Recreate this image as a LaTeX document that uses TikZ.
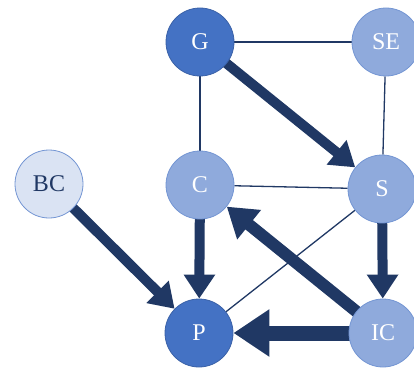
\documentclass[tikz,border=0pt]{standalone}
\usepackage{fontspec}
\setmainfont{Liberation Serif}
\usetikzlibrary{arrows.meta,backgrounds}
\definecolor{darkblue}{HTML}{4472C4}
\definecolor{midblue}{HTML}{8FAADC}
\definecolor{paleblue}{HTML}{DAE3F3}
\definecolor{navy}{HTML}{203864}
\tikzset{
  base/.style={circle,minimum size=68pt,inner sep=0pt,line width=0.8pt,
    font=\fontsize{24}{28}\selectfont},
  dark/.style={base,fill=darkblue,draw=darkblue!85!black,text=white},
  mid/.style={base,fill=midblue,draw=darkblue!75,text=white},
  pale/.style={base,fill=paleblue,draw=darkblue!75,text=navy},
  link/.style={draw=navy,line width=1.3pt},
  flow/.style={draw=navy,line width=#1,shorten <=-8pt,
    -{Triangle[width=3*#1,length=2.4*#1]}},
}
\begin{document}
\begin{tikzpicture}[x=1pt,y=-1pt]
  \useasboundingbox (0,0) rectangle (414,369);
  % vertices
  \node[dark] (G) at (200,42) {G};
  \node[mid] (SE) at (386,42) {SE};
  \node[pale] (BC) at (49,184) {BC};
  \node[mid] (C) at (200,185) {C};
  \node[mid] (S) at (382,189) {S};
  \node[dark] (P) at (199,333) {P};
  \node[mid] (IC) at (383,333) {IC};
  \begin{scope}[on background layer]
    % plain links
    \draw[link] (G) -- (SE);
    \draw[link] (G) -- (C);
    \draw[link] (SE) -- (S);
    \draw[link] (C) -- (S);
    \draw[link] (S) -- (P);
    % flows
    \draw[flow=10pt] (G) -- (S);
    \draw[flow=10pt] (BC) -- (P);
    \draw[flow=10pt] (C) -- (P);
    \draw[flow=10pt] (S) -- (IC);
    \draw[flow=12pt] (IC) -- (C);
    \draw[flow=15pt] (IC) -- (P);
  \end{scope}
\end{tikzpicture}
\end{document}
